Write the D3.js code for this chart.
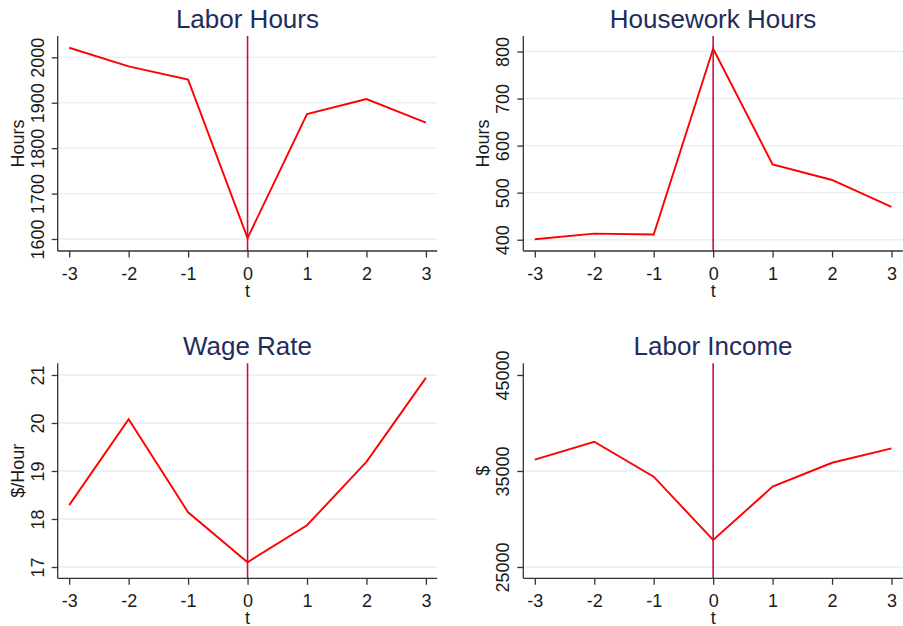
<!DOCTYPE html>
<html>
<head>
<meta charset="utf-8">
<script src="https://cdn.jsdelivr.net/npm/d3@7"></script>
<style>
  body { margin: 0; background: #fff; }
  svg { display: block; font-family: "Liberation Sans", Arial, sans-serif; }
</style>
</head>
<body>
<div id="chart"></div>
<script>
// event time
var tValues = [-3, -2, -1, 0, 1, 2, 3];

// series
var laborHours = [2021, 1980, 1951, 1602, 1875, 1908, 1856];
var houseworkHours = [401, 413, 411, 806, 560, 527, 470];
var wageRate = [18.29, 20.08, 18.14, 17.10, 17.87, 19.19, 20.94];
var laborIncome = [36180, 38050, 34410, 27810, 33370, 35860, 37360];

// tick labels
var laborHoursTicks = [1600, 1700, 1800, 1900, 2000];
var houseworkTicks = [400, 500, 600, 700, 800];
var wageTicks = [17, 18, 19, 20, 21];
var incomeTicks = [25000, 35000, 45000];
var incomeGrid = [25000, 35000];

var titles = ["Labor Hours", "Housework Hours", "Wage Rate", "Labor Income"];
var yTitles = ["Hours", "Hours", "$/Hour", "$"];

var W = 903, H = 626;
var plotW = 379.5;
var labelSize = "18px";

var panels = [
    { left: 57.7, top: 36, bottom: 251, values: laborHours, ticks: laborHoursTicks, grid: laborHoursTicks, yDomain: [1573.6, 2046.9] },
    { left: 523.3, top: 36, bottom: 251, values: houseworkHours, ticks: houseworkTicks, grid: houseworkTicks, yDomain: [376, 833] },
    { left: 57.7, top: 363.3, bottom: 578.3, values: wageRate, ticks: wageTicks, grid: wageTicks, yDomain: [16.765, 21.244] },
    { left: 523.3, top: 363.3, bottom: 578.3, values: laborIncome, ticks: incomeTicks, grid: incomeGrid, yDomain: [23823, 46219] }
];

var svg = d3.select("#chart")
    .append("svg")
    .attr("width", W)
    .attr("height", H);

panels.forEach(function(p, i) {
    var h = p.bottom - p.top;
    var g = svg.append("g")
        .attr("transform", "translate(" + p.left + "," + p.top + ")");

    var x = d3.scaleLinear()
        .domain([-3, 3])
        .range([11.5, plotW - 11.3]);

    var y = d3.scaleLinear()
        .domain(p.yDomain)
        .range([h, 0]);

    // gridlines
    g.selectAll(".grid")
        .data(p.grid)
        .enter()
        .append("line")
        .attr("class", "grid")
        .attr("x1", 0)
        .attr("x2", plotW)
        .attr("y1", function(d) { return y(d); })
        .attr("y2", function(d) { return y(d); })
        .attr("stroke", "#e6eff1")
        .attr("stroke-width", 1.4);

    // the series
    var line = d3.line()
        .x(function(d, j) { return x(tValues[j]); })
        .y(function(d) { return y(d); });

    g.append("path")
        .datum(p.values)
        .attr("d", line)
        .attr("fill", "none")
        .attr("stroke", "#ff0000")
        .attr("stroke-width", 1.9);

    // event line at t = 0
    g.append("line")
        .attr("x1", x(0))
        .attr("x2", x(0))
        .attr("y1", 0)
        .attr("y2", h)
        .attr("stroke", "#c4113d")
        .attr("stroke-width", 1.6);

    // x axis
    var xAxis = g.append("g")
        .attr("transform", "translate(0," + h + ")")
        .call(d3.axisBottom(x).tickValues(tValues).tickSize(6.5).tickFormat(function(d) { return String(d); }));
    xAxis.select(".domain").remove();
    xAxis.selectAll(".tick line").attr("stroke", "#333").attr("stroke-width", 1.3);
    xAxis.selectAll(".tick text")
        .attr("y", 29)
        .attr("dy", null)
        .attr("fill", "#1a1a1a")
        .style("font-size", labelSize)
        .style("font-family", "'Liberation Sans', Arial, sans-serif");

    // y axis
    var yAxis = g.append("g")
        .call(d3.axisLeft(y).tickValues(p.ticks).tickSize(6).tickFormat(function(d) { return String(d); }));
    yAxis.select(".domain").remove();
    yAxis.selectAll(".tick line").attr("stroke", "#333").attr("stroke-width", 1.3);
    yAxis.selectAll(".tick text")
        .attr("x", null)
        .attr("dy", null)
        .attr("text-anchor", "middle")
        .attr("transform", "translate(-14,0) rotate(-90)")
        .attr("fill", "#1a1a1a")
        .style("font-size", labelSize)
        .style("font-family", "'Liberation Sans', Arial, sans-serif");

    // axis lines
    g.append("line")
        .attr("x1", 0).attr("x2", 0)
        .attr("y1", 0).attr("y2", h)
        .attr("stroke", "#333")
        .attr("stroke-width", 1.3);
    g.append("line")
        .attr("x1", 0).attr("x2", plotW)
        .attr("y1", h).attr("y2", h)
        .attr("stroke", "#333")
        .attr("stroke-width", 1.3);

    // titles
    g.append("text")
        .attr("x", plotW / 2)
        .attr("y", -8)
        .attr("text-anchor", "middle")
        .attr("fill", "#1e2d5c")
        .style("font-size", "26px")
        .text(titles[i]);

    g.append("text")
        .attr("transform", "translate(-34," + (h / 2) + ") rotate(-90)")
        .attr("text-anchor", "middle")
        .attr("fill", "#1a1a1a")
        .style("font-size", labelSize)
        .text(yTitles[i]);

    g.append("text")
        .attr("x", x(0))
        .attr("y", h + 46)
        .attr("text-anchor", "middle")
        .attr("fill", "#1a1a1a")
        .style("font-size", labelSize)
        .text("t");
});
</script>
</body>
</html>
